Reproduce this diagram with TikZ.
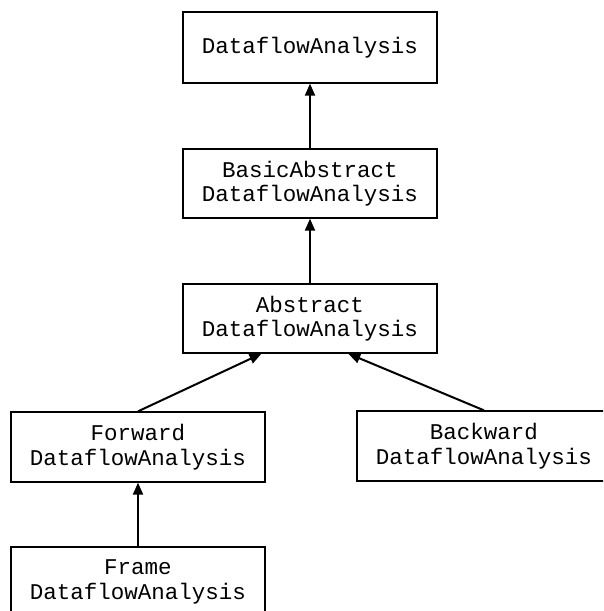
\documentclass[tikz,border=0pt]{standalone}
\usepackage{fontspec}
\setmonofont{Liberation Mono}
\usetikzlibrary{arrows.meta,calc}
\tikzset{
  classbox/.style={draw=black, line width=1.3pt, rectangle, minimum width=254pt,
    minimum height=70pt, inner sep=0pt, align=center,
    font=\ttfamily\fontsize{22.5pt}{24.5pt}\selectfont},
  inherit/.style={draw=black, line width=2pt, -{Triangle[width=10pt,length=12pt]}}
}
\begin{document}
\begin{tikzpicture}[x=1pt,y=-1pt]
  \useasboundingbox (0,0) rectangle (603,611);
  \clip (0,0) rectangle (603,611);
  % class nodes
  \node[classbox, minimum height=71pt] (dfa) at (310,47.5) {DataflowAnalysis};
  \node[classbox, minimum height=69pt] (basic) at (310,183.5) {BasicAbstract\\DataflowAnalysis};
  \node[classbox, minimum height=69pt] (abs) at (310,318.5) {Abstract\\DataflowAnalysis};
  \node[classbox] (fwd) at (138,447) {Forward\\DataflowAnalysis};
  \node[classbox] (bwd) at (484,446) {Backward\\DataflowAnalysis};
  \node[classbox] (frame) at (138,582) {Frame\\DataflowAnalysis};
  % inheritance arrows
  \draw[inherit] (basic.north) -- (dfa.south);
  \draw[inherit] (abs.north) -- (basic.south);
  \draw[inherit] (fwd.north) -- ($(abs.south west)!0.31!(abs.south east)$);
  \draw[inherit] (bwd.north) -- ($(abs.south west)!0.65!(abs.south east)$);
  \draw[inherit] (frame.north) -- (fwd.south);
\end{tikzpicture}
\end{document}
